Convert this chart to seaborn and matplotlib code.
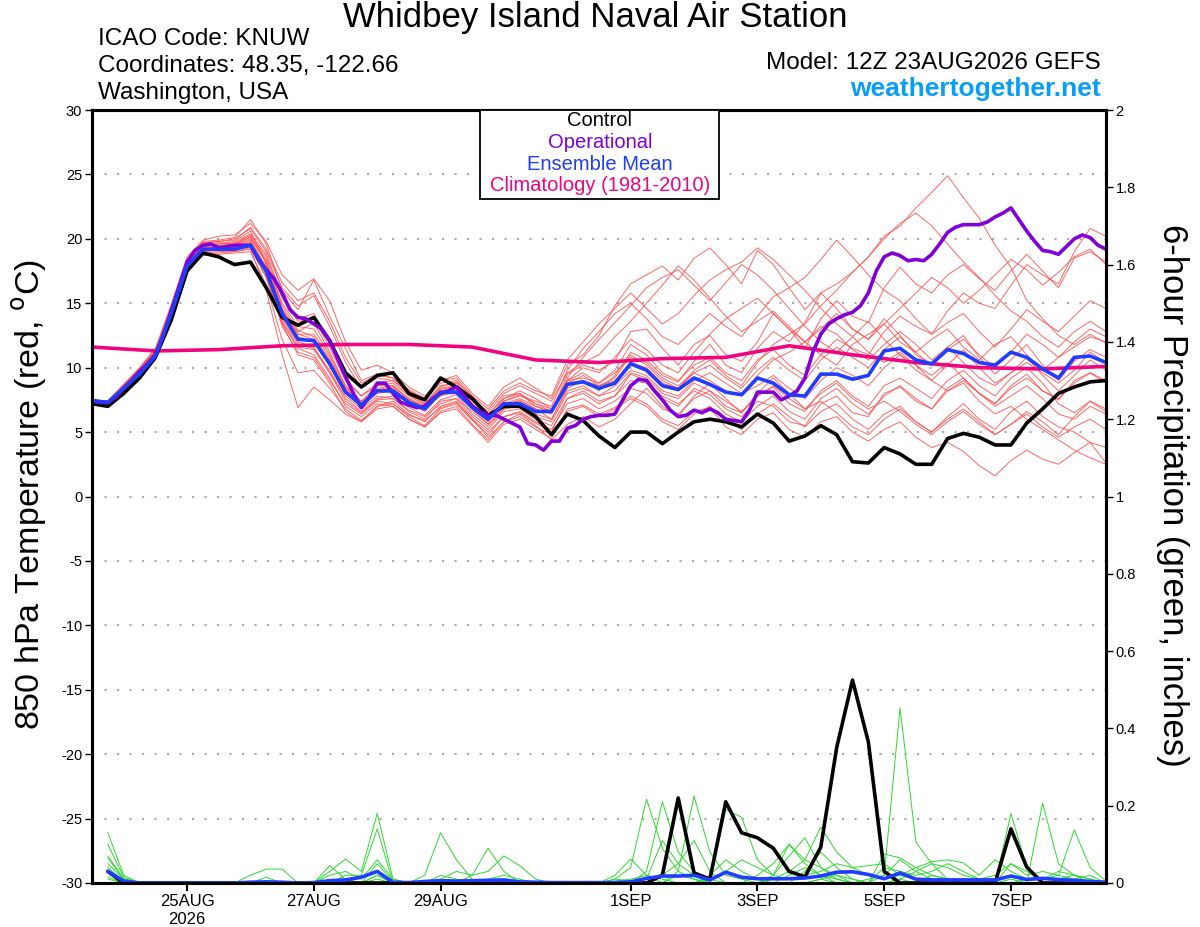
import pandas as pd
import numpy as np
import matplotlib
matplotlib.use("Agg")
import matplotlib.pyplot as plt
from matplotlib.patches import Rectangle
import seaborn as sns

# GEFS run, 6-hourly ensemble output, 3-hourly operational run, daily climatology
run_start = pd.Timestamp("2026-08-23 12:00")
times = pd.date_range(run_start, periods=65, freq="6h")
precip_times = times[1:]
op_times = pd.date_range(run_start, periods=129, freq="3h")
clim_times = pd.date_range(run_start, periods=17, freq="24h")

tick_days = ["2026-08-25", "2026-08-27", "2026-08-29", "2026-09-01",
             "2026-09-03", "2026-09-05", "2026-09-07"]
tick_labels = ["25AUG\n2026", "27AUG", "29AUG", "1SEP", "3SEP", "5SEP", "7SEP"]

# 850 hPa temperature (C)
control_temp = [7.2, 7.0, 8.0, 9.2, 10.8, 13.7, 17.5, 18.9, 18.6, 18.0, 18.2,
                16.2, 13.9, 13.3, 13.9, 12.1, 9.6, 8.5, 9.4, 9.6, 8.0, 7.5,
                9.2, 8.5, 7.6, 6.3, 7.0, 7.0, 6.2, 4.8, 6.4, 5.9, 4.7, 3.8,
                5.0, 5.0, 4.1, 5.0, 5.8, 6.0, 5.8, 5.4, 6.4, 5.7, 4.3, 4.7,
                5.5, 4.8, 2.7, 2.6, 3.8, 3.3, 2.5, 2.5, 4.5, 4.9, 4.6, 4.0,
                4.0, 5.7, 6.8, 8.0, 8.5, 8.9, 9.0]
mean_temp = [7.45, 7.3, 8.4, 9.5, 10.9, 14.2, 17.9, 19.2, 19.2, 19.2, 19.5,
             17.5, 14.2, 12.2, 12.1, 10.3, 8.1, 7.1, 8.2, 8.2, 7.3, 6.8,
             8.1, 8.1, 6.9, 6.0, 7.2, 7.2, 6.6, 6.6, 8.7, 8.9, 8.4, 8.8,
             10.3, 9.8, 8.6, 8.3, 9.2, 8.7, 8.1, 7.9, 9.2, 8.8, 7.9, 7.8,
             9.5, 9.5, 9.1, 9.4, 11.3, 11.5, 10.6, 10.3, 11.4, 11.1, 10.4, 10.2,
             11.2, 10.8, 9.9, 9.2, 10.8, 10.9, 10.4]
oper_temp = [7.4, 7.3, 7.3, 7.7, 8.4, 9.0, 9.7, 10.3, 11.0, 12.5, 14.4, 16.3,
             18.2, 19.1, 19.5, 19.6, 19.3, 19.4, 19.5, 19.5, 19.5, 18.4, 17.6, 16.9,
             15.8, 14.5, 13.9, 13.8, 13.4, 13.0, 12.1, 10.7, 9.3, 8.0, 6.9, 7.7,
             8.8, 8.8, 8.0, 7.3, 7.1, 6.9, 7.0, 7.6, 8.0, 8.2, 8.5, 7.8,
             7.0, 6.6, 6.3, 6.3, 6.0, 5.7, 5.4, 4.1, 4.0, 3.6, 4.3, 4.3,
             5.3, 5.5, 6.0, 6.2, 6.3, 6.3, 6.4, 7.5, 8.6, 9.1, 9.0, 8.2,
             7.5, 6.7, 6.2, 6.3, 6.7, 6.5, 6.8, 6.5, 6.0, 5.9, 5.8, 6.7,
             8.1, 8.1, 8.1, 7.5, 7.8, 8.2, 9.2, 11.2, 12.6, 13.4, 13.8, 14.1,
             14.3, 14.8, 15.8, 17.5, 18.6, 18.9, 18.7, 18.3, 18.4, 18.3, 18.8, 19.6,
             20.5, 20.9, 21.1, 21.1, 21.1, 21.3, 21.7, 22.0, 22.4, 21.5, 20.6, 19.8,
             19.1, 19.0, 18.8, 19.4, 20.0, 20.3, 20.1, 19.5, 19.2]
clim_temp = [11.6, 11.3, 11.4, 11.7, 11.8, 11.8, 11.6, 10.6, 10.4, 10.7, 10.8,
             11.7, 11.0, 10.4, 10.0, 9.9, 10.1]

member_temps = [
    [7.3, 7.2, 8.4, 9.6, 11.0, 14.8, 18.4, 19.8, 19.9, 20.1, 21.5,
     19.6, 16.0, 14.5, 16.8, 14.0, 11.5, 9.0, 9.5, 9.2, 8.0, 7.2,
     8.5, 8.9, 7.8, 6.3, 7.8, 8.0, 7.0, 6.5, 9.5, 10.2, 9.8, 10.5,
     12.8, 13.0, 11.5, 10.2, 11.8, 12.5, 11.0, 10.5, 12.0, 14.2, 13.0, 11.5, 13.8, 15.2, 14.0, 13.5,
     16.2, 17.8, 16.5, 15.8, 17.2, 18.0, 16.9, 16.0, 17.5, 18.8, 17.5, 16.2, 18.5, 19.0, 18.2],
    [7.4, 7.3, 8.6, 9.9, 11.3, 14.6, 18.2, 19.5, 19.6, 19.8, 20.6,
     18.0, 14.5, 12.8, 13.5, 11.2, 8.6, 7.4, 8.3, 8.5, 7.6, 6.9,
     7.8, 8.2, 6.8, 5.6, 7.0, 7.5, 6.8, 6.0, 8.4, 9.0, 8.2, 9.4,
     11.2, 10.6, 9.4, 8.9, 10.5, 11.8, 10.2, 9.6, 11.5, 12.8, 12.0, 13.5, 15.8, 16.5, 17.4, 18.6,
     20.2, 21.0, 22.4, 23.6, 24.9, 23.2, 21.6, 19.5, 17.8, 15.2, 13.8, 12.5, 11.8, 12.6, 11.9],
    [7.2, 7.1, 8.2, 9.5, 10.8, 14.0, 17.6, 18.8, 18.9, 19.0, 19.2,
     16.0, 11.0, 6.9, 8.5, 7.5, 6.4, 5.8, 7.0, 7.2, 6.2, 5.5,
     6.8, 7.2, 5.9, 4.8, 6.2, 6.5, 5.7, 5.0, 7.6, 8.0, 7.2, 7.8,
     9.5, 9.0, 7.6, 7.0, 8.4, 7.9, 6.8, 6.2, 7.4, 7.0, 5.8, 5.5, 7.2, 7.8, 6.5, 6.2,
     8.0, 8.5, 7.4, 6.8, 8.4, 9.2, 8.0, 7.2, 8.6, 9.5, 8.2, 7.5, 9.0, 9.6, 8.8],
    [7.5, 7.4, 8.7, 10.0, 11.5, 14.9, 18.6, 19.9, 20.2, 20.3, 21.2,
     19.8, 17.2, 16.0, 16.9, 15.2, 12.0, 9.8, 10.2, 9.6, 8.5, 7.8,
     9.0, 9.4, 8.0, 7.0, 8.5, 9.2, 8.4, 7.6, 10.2, 11.0, 12.5, 14.8,
     16.5, 17.2, 17.9, 16.8, 18.5, 19.3, 18.0, 16.5, 19.1, 18.0, 16.2, 14.5, 15.8, 14.6, 13.0, 12.2,
     13.8, 12.5, 11.0, 10.2, 11.6, 12.5, 10.8, 9.5, 10.6, 11.8, 10.2, 9.0, 10.5, 11.4, 10.8],
    [7.3, 7.2, 8.3, 9.4, 10.7, 14.1, 17.8, 19.0, 19.1, 19.0, 19.3,
     17.0, 13.5, 11.5, 11.0, 9.2, 7.0, 6.2, 7.2, 7.0, 6.0, 5.4,
     6.5, 6.8, 5.5, 4.2, 5.6, 6.0, 5.2, 4.5, 6.8, 7.1, 6.4, 6.9,
     7.8, 7.2, 6.0, 5.5, 6.6, 6.9, 5.4, 4.8, 6.0, 6.5, 5.2, 4.6, 5.8, 6.2, 5.0, 4.3,
     5.2, 5.8, 4.6, 3.8, 4.2, 3.5, 2.4, 1.6, 2.8, 3.6, 2.9, 2.5, 3.4, 4.2, 2.6],
    [7.4, 7.3, 8.5, 9.7, 11.1, 14.4, 18.1, 19.3, 19.3, 19.5, 20.0,
     18.2, 15.0, 13.2, 13.0, 11.0, 8.5, 7.2, 8.4, 8.6, 7.5, 7.0,
     8.2, 8.5, 7.2, 6.2, 7.4, 7.8, 7.4, 7.0, 9.8, 11.5, 12.8, 14.2,
     15.0, 13.8, 12.4, 11.8, 13.0, 14.2, 13.2, 12.4, 14.0, 15.5, 16.2, 17.0, 18.4, 19.9, 18.6, 17.2,
     16.0, 15.2, 13.8, 12.6, 13.5, 14.2, 12.8, 11.6, 13.0, 14.5, 13.6, 12.8, 14.0, 15.2, 14.6],
    [7.3, 7.2, 8.3, 9.5, 10.9, 14.3, 17.9, 19.1, 19.1, 19.2, 19.6,
     17.4, 13.8, 11.8, 11.5, 9.8, 7.6, 6.6, 7.6, 7.8, 6.9, 6.3,
     7.5, 7.9, 6.4, 5.4, 6.8, 7.0, 6.2, 5.8, 8.0, 8.4, 7.8, 8.2,
     9.6, 9.2, 8.0, 7.6, 8.8, 8.2, 7.0, 6.5, 7.8, 8.5, 7.2, 6.6, 8.2, 9.0, 7.8, 7.0,
     8.6, 9.2, 8.4, 7.6, 9.0, 9.8, 8.6, 7.8, 9.2, 10.0, 8.8, 7.2, 6.5, 7.4, 6.8],
    [7.5, 7.4, 8.6, 9.8, 11.2, 14.6, 18.3, 19.6, 19.7, 19.6, 20.3,
     18.6, 15.4, 13.6, 13.8, 11.6, 9.0, 7.8, 8.8, 9.0, 7.9, 7.2,
     8.6, 8.8, 7.4, 6.4, 7.6, 8.2, 7.6, 6.8, 9.0, 9.6, 8.8, 9.8,
     11.8, 11.0, 9.6, 9.0, 10.2, 10.8, 9.6, 9.0, 10.6, 11.4, 10.2, 9.4, 11.0, 12.2, 11.5, 11.0,
     12.8, 14.0, 13.2, 12.6, 14.4, 15.8, 15.0, 14.6, 16.4, 18.0, 17.2, 16.5, 19.0, 20.8, 20.2],
    [7.2, 7.1, 8.1, 9.3, 10.6, 13.8, 17.5, 18.7, 18.8, 18.9, 19.0,
     16.4, 12.2, 9.6, 9.8, 8.4, 6.8, 5.9, 7.0, 7.4, 6.4, 5.8,
     7.0, 7.4, 6.0, 4.6, 5.8, 6.4, 5.5, 4.4, 5.6, 6.2, 5.4, 6.0,
     7.2, 8.4, 7.0, 6.2, 7.8, 8.8, 7.6, 6.5, 8.0, 9.2, 8.0, 6.8, 7.4, 6.5, 5.4, 4.8,
     6.0, 6.8, 5.8, 5.0, 6.2, 7.2, 6.0, 5.2, 6.6, 7.4, 6.2, 5.4, 5.0, 4.2, 3.8],
    [7.4, 7.3, 8.5, 9.7, 11.1, 14.5, 18.2, 19.4, 19.5, 19.6, 20.1,
     18.4, 14.8, 12.9, 12.4, 10.6, 8.3, 7.3, 8.2, 8.1, 7.2, 6.6,
     7.9, 8.0, 6.8, 5.8, 7.2, 7.4, 6.8, 6.4, 9.2, 10.8, 12.2, 13.5,
     14.8, 16.2, 17.0, 17.6, 16.4, 15.2, 16.6, 18.0, 17.2, 16.0, 14.6, 13.2, 12.0, 11.2, 12.4, 13.6,
     12.2, 11.0, 9.8, 9.0, 10.2, 11.4, 10.0, 8.8, 9.6, 10.8, 9.4, 8.2, 9.4, 10.6, 9.8],
    [7.3, 7.2, 8.4, 9.6, 11.0, 14.3, 18.0, 19.2, 19.3, 19.3, 19.7,
     17.6, 14.2, 12.4, 12.0, 10.2, 8.0, 7.0, 8.0, 8.2, 7.2, 6.7,
     8.0, 8.2, 6.9, 5.9, 7.1, 7.3, 6.6, 6.6, 8.8, 9.0, 8.6, 9.0,
     10.4, 10.0, 8.8, 8.4, 9.6, 9.0, 8.2, 7.8, 9.4, 10.6, 11.2, 12.0, 11.0, 10.2, 11.8, 12.6,
     13.4, 12.0, 11.2, 12.2, 13.0, 11.6, 10.6, 11.8, 12.4, 11.0, 9.8, 10.8, 11.6, 12.4, 12.0],
    [7.4, 7.3, 8.4, 9.6, 11.0, 14.4, 18.1, 19.3, 19.2, 19.3, 19.8,
     17.8, 14.0, 12.0, 11.6, 9.6, 7.4, 6.5, 7.5, 7.6, 6.7, 6.2,
     7.2, 7.6, 6.2, 5.2, 6.6, 6.8, 6.0, 5.5, 7.6, 8.2, 7.4, 7.8,
     9.0, 8.8, 7.8, 7.2, 8.2, 7.6, 6.4, 5.8, 7.0, 7.8, 6.6, 6.0, 7.6, 8.4, 7.2, 6.4,
     7.8, 8.6, 7.6, 6.8, 8.2, 8.8, 7.4, 6.4, 7.0, 6.0, 5.2, 4.4, 3.6, 3.0, 2.5],
    [7.5, 7.4, 8.7, 9.9, 11.4, 14.7, 18.4, 19.7, 19.8, 20.0, 20.8,
     19.0, 16.2, 14.8, 15.6, 13.2, 10.4, 8.4, 9.2, 9.0, 8.2, 7.5,
     8.8, 9.0, 7.6, 6.6, 8.0, 8.6, 8.0, 7.4, 9.6, 10.4, 11.0, 12.4,
     13.6, 15.0, 16.4, 17.9, 16.8, 15.4, 14.0, 12.8, 13.6, 14.4, 13.2, 12.0, 13.0, 14.2, 13.0, 12.2,
     13.4, 14.6, 15.8, 17.0, 16.2, 15.0, 16.0, 17.2, 18.4, 17.6, 16.4, 17.4, 18.6, 19.2, 18.0],
    [7.3, 7.2, 8.3, 9.5, 10.8, 14.2, 17.9, 19.1, 19.2, 19.1, 19.5,
     17.2, 13.6, 11.6, 11.4, 9.6, 7.8, 6.8, 7.8, 7.6, 6.6, 6.0,
     7.4, 7.6, 6.6, 5.6, 6.8, 7.2, 6.4, 6.0, 8.2, 8.6, 7.8, 8.6,
     9.8, 9.4, 8.2, 7.8, 9.0, 9.6, 8.8, 8.0, 8.6, 9.4, 8.4, 7.6, 9.0, 10.0, 9.4, 8.6,
     10.0, 11.0, 10.2, 9.4, 10.4, 9.2, 8.0, 7.2, 8.4, 9.2, 8.2, 7.6, 8.8, 9.6, 9.0],
    [7.4, 7.3, 8.5, 9.8, 11.2, 14.5, 18.2, 19.5, 19.6, 19.7, 20.4,
     18.8, 15.6, 13.8, 14.2, 12.0, 9.2, 7.8, 8.6, 8.8, 7.8, 7.1,
     8.3, 8.6, 7.2, 6.0, 7.4, 7.9, 7.2, 6.6, 8.8, 9.4, 8.6, 9.2,
     11.0, 10.2, 9.0, 8.4, 9.8, 10.6, 9.4, 8.6, 10.4, 11.8, 12.6, 13.4, 14.8, 16.0, 17.4, 18.6,
     20.0, 21.2, 22.0, 21.0, 19.6, 18.2, 17.0, 15.6, 14.4, 13.6, 12.4, 11.6, 12.8, 13.6, 12.8],
    [7.2, 7.1, 8.2, 9.4, 10.7, 14.0, 17.7, 18.9, 19.0, 19.1, 19.4,
     17.0, 13.2, 11.2, 10.8, 9.0, 7.2, 6.4, 7.4, 7.2, 6.3, 5.9,
     6.9, 7.3, 6.0, 5.0, 6.2, 6.6, 5.8, 5.2, 7.2, 7.6, 6.8, 7.4,
     8.4, 8.0, 6.8, 6.4, 7.6, 8.2, 7.4, 6.6, 7.8, 8.6, 7.6, 6.8, 8.0, 8.8, 7.6, 6.8,
     7.4, 6.6, 5.6, 4.8, 5.8, 6.6, 5.6, 4.8, 5.6, 6.4, 5.4, 4.6, 5.4, 6.0, 5.2],
    [7.4, 7.3, 8.6, 9.8, 11.2, 14.6, 18.2, 19.4, 19.5, 19.5, 20.2,
     18.2, 14.6, 12.6, 12.6, 10.8, 8.4, 7.4, 8.6, 8.6, 7.6, 7.0,
     8.4, 8.6, 7.0, 6.0, 7.6, 8.0, 7.2, 6.8, 9.0, 10.0, 9.6, 10.8,
     12.2, 11.4, 10.2, 9.6, 11.2, 12.6, 13.8, 14.6, 15.4, 14.2, 13.0, 12.0, 13.2, 12.6, 11.4, 10.6,
     11.8, 12.8, 11.8, 10.6, 11.6, 10.4, 9.2, 8.6, 9.6, 10.4, 9.6, 8.8, 9.8, 11.2, 10.4],
    [7.3, 7.2, 8.3, 9.5, 10.9, 14.2, 17.9, 19.1, 19.2, 19.3, 19.6,
     17.4, 13.4, 11.0, 10.6, 8.8, 6.6, 5.8, 6.8, 7.0, 6.0, 5.4,
     6.6, 7.0, 5.6, 4.4, 5.8, 6.2, 5.4, 4.8, 6.6, 7.0, 6.2, 6.8,
     7.6, 7.0, 5.8, 5.2, 6.4, 7.0, 6.0, 5.2, 6.4, 7.2, 6.2, 5.4, 6.6, 7.2, 6.0, 5.2,
     6.4, 7.0, 5.8, 5.0, 6.0, 6.8, 5.8, 4.8, 5.6, 6.6, 5.8, 4.8, 6.2, 7.4, 6.6],
    [7.5, 7.4, 8.6, 9.9, 11.3, 14.7, 18.4, 19.7, 19.8, 19.9, 20.9,
     19.2, 16.6, 15.2, 15.8, 13.6, 10.8, 8.8, 9.4, 9.2, 8.3, 7.6,
     9.0, 9.2, 7.8, 6.8, 8.2, 8.8, 8.2, 7.8, 10.6, 12.0, 13.4, 14.6,
     15.8, 14.6, 13.4, 14.2, 15.6, 16.8, 17.6, 18.2, 19.3, 18.4, 17.2, 16.0, 14.6, 13.4, 12.4, 11.2,
     10.4, 11.2, 10.2, 9.0, 8.2, 9.0, 8.0, 7.0, 7.8, 8.6, 7.6, 6.4, 6.0, 7.0, 6.4],
    [7.4, 7.3, 8.4, 9.7, 11.1, 14.4, 18.0, 19.2, 19.4, 19.4, 19.9,
     17.8, 14.4, 12.6, 12.2, 10.4, 8.2, 7.2, 8.2, 8.4, 7.4, 6.8,
     8.1, 8.4, 7.0, 6.0, 7.2, 7.6, 7.0, 6.6, 9.0, 9.2, 8.8, 9.6,
     10.8, 10.4, 9.2, 8.6, 9.6, 10.2, 9.2, 8.4, 9.8, 10.8, 9.8, 9.0, 10.6, 11.6, 10.8, 10.0,
     11.4, 12.4, 11.2, 10.2, 11.4, 12.2, 11.0, 10.0, 11.2, 12.6, 11.8, 10.8, 12.0, 13.0, 12.4],
]

# 6-hour precipitation (inches), from the first 6 h step on
control_precip = [0.03, 0, 0, 0, 0, 0, 0, 0,
                  0, 0, 0, 0, 0, 0, 0, 0,
                  0, 0, 0, 0, 0, 0, 0, 0.002,
                  0, 0, 0, 0, 0, 0, 0, 0,
                  0, 0, 0, 0.02, 0.22, 0.026, 0.01, 0.21,
                  0.13, 0.117, 0.09, 0.03, 0.016, 0.093, 0.35, 0.525,
                  0.365, 0.03, 0, 0, 0, 0, 0, 0,
                  0, 0.14, 0.041, 0, 0, 0, 0, 0]
mean_precip = [0.03, 0.005, 0, 0, 0, 0, 0, 0,
               0, 0.002, 0.003, 0.002, 0, 0.001, 0.006, 0.008,
               0.015, 0.03, 0.002, 0.001, 0.004, 0.006, 0.005, 0.006,
               0.007, 0.008, 0.003, 0.002, 0.001, 0.001, 0.001, 0.001,
               0.001, 0.003, 0.012, 0.018, 0.018, 0.02, 0.008, 0.028,
               0.015, 0.011, 0.011, 0.011, 0.013, 0.018, 0.028, 0.029,
               0.022, 0.011, 0.026, 0.01, 0.008, 0.008, 0.008, 0.008,
               0.008, 0.018, 0.009, 0.012, 0.009, 0.007, 0.004, 0.002]
member_precip = [
    [0.13, 0.02, 0, 0, 0, 0, 0, 0,
     0, 0, 0, 0, 0, 0, 0, 0,
     0, 0.01, 0, 0, 0.02, 0.13, 0.06, 0.01,
     0, 0, 0, 0, 0, 0, 0, 0,
     0.01, 0.04, 0.217, 0.09, 0.03, 0.01, 0, 0,
     0, 0, 0, 0, 0, 0.01, 0.02, 0.01,
     0, 0.02, 0.06, 0.03, 0.01, 0, 0, 0,
     0, 0, 0, 0, 0, 0, 0, 0],
    [0.10, 0.015, 0, 0, 0, 0, 0, 0,
     0, 0.02, 0.036, 0.036, 0, 0, 0.045, 0.01,
     0, 0.02, 0, 0, 0, 0.01, 0.03, 0.02,
     0.09, 0.03, 0, 0, 0, 0, 0, 0,
     0, 0, 0.03, 0.21, 0.08, 0.03, 0.01, 0,
     0, 0, 0.02, 0.10, 0.05, 0.02, 0, 0,
     0.01, 0.02, 0.453, 0.106, 0.05, 0.01, 0, 0,
     0, 0, 0, 0, 0, 0, 0, 0],
    [0.07, 0.01, 0, 0, 0, 0, 0, 0,
     0, 0, 0.015, 0, 0, 0, 0.03, 0.062,
     0.03, 0.18, 0.01, 0, 0, 0, 0, 0,
     0, 0, 0, 0, 0, 0, 0, 0,
     0.02, 0.062, 0.02, 0, 0.03, 0.225, 0.08, 0.02,
     0.01, 0, 0, 0, 0.03, 0.08, 0.04, 0.01,
     0, 0, 0, 0, 0, 0, 0, 0,
     0, 0.18, 0.04, 0, 0, 0, 0, 0],
    [0.065, 0.01, 0, 0, 0, 0, 0, 0,
     0, 0, 0, 0, 0, 0, 0, 0.02,
     0.02, 0.14, 0, 0, 0, 0, 0, 0.02,
     0.03, 0.07, 0.045, 0.01, 0, 0, 0, 0,
     0, 0, 0.01, 0.11, 0.05, 0.02, 0, 0.19,
     0.17, 0.06, 0.02, 0.07, 0.117, 0.04, 0.01, 0,
     0, 0.075, 0.065, 0.04, 0.02, 0.01, 0, 0,
     0, 0.01, 0, 0, 0, 0, 0, 0],
    [0.05, 0.01, 0, 0, 0, 0, 0, 0,
     0, 0, 0, 0, 0, 0, 0.02, 0.03,
     0.01, 0.06, 0.01, 0, 0, 0.02, 0.01, 0,
     0, 0, 0, 0, 0, 0, 0, 0,
     0, 0, 0, 0.02, 0.05, 0.11, 0.03, 0,
     0, 0.02, 0.05, 0.10, 0.06, 0.145, 0.08, 0.04,
     0.045, 0.05, 0.02, 0.01, 0, 0, 0, 0,
     0, 0, 0, 0.207, 0.05, 0.02, 0, 0],
    [0.04, 0.005, 0, 0, 0, 0, 0, 0,
     0, 0, 0, 0, 0, 0, 0, 0,
     0, 0.05, 0.005, 0, 0, 0, 0, 0,
     0, 0, 0, 0, 0, 0, 0, 0,
     0.005, 0.01, 0.02, 0.01, 0, 0, 0.01, 0.03,
     0.06, 0.04, 0.02, 0.01, 0.02, 0.03, 0.05, 0.04,
     0.02, 0.01, 0.02, 0.04, 0.055, 0.06, 0.052, 0.02,
     0.06, 0.03, 0.01, 0.01, 0.02, 0.137, 0.04, 0.005],
    [0.03, 0, 0, 0, 0, 0, 0, 0,
     0, 0, 0, 0, 0, 0, 0, 0,
     0, 0.02, 0, 0, 0, 0, 0, 0,
     0, 0, 0, 0, 0, 0, 0, 0,
     0, 0, 0, 0, 0, 0, 0.02, 0.06,
     0.03, 0.01, 0, 0.02, 0.04, 0.02, 0.01, 0,
     0, 0, 0.01, 0.03, 0.05, 0.04, 0.02, 0.01,
     0.02, 0.05, 0.02, 0.03, 0.02, 0.01, 0.02, 0],
    [0.015, 0, 0, 0, 0, 0, 0, 0,
     0, 0, 0, 0, 0, 0, 0, 0,
     0, 0, 0, 0, 0, 0, 0, 0,
     0.01, 0.02, 0.01, 0, 0, 0, 0, 0,
     0, 0, 0, 0, 0, 0, 0, 0,
     0, 0, 0.01, 0.03, 0.06, 0.04, 0.02, 0,
     0, 0.04, 0.03, 0.02, 0.03, 0.05, 0.03, 0.01,
     0, 0.05, 0.03, 0.01, 0.01, 0.02, 0.01, 0],
    [0.01, 0, 0, 0, 0, 0, 0, 0,
     0, 0, 0, 0, 0, 0, 0, 0,
     0, 0, 0, 0, 0, 0, 0, 0,
     0, 0, 0, 0, 0, 0, 0, 0,
     0.01, 0.005, 0, 0, 0.02, 0.01, 0, 0,
     0, 0, 0, 0, 0, 0.01, 0, 0,
     0, 0, 0.01, 0, 0.02, 0.01, 0, 0,
     0, 0, 0.01, 0.01, 0.03, 0.02, 0.01, 0],
]

bad = [(k, len(m)) for k, m in enumerate(member_temps) if len(m) != len(times)]
bad += [("p", k, len(m)) for k, m in enumerate(member_precip) if len(m) != len(precip_times)]
if bad:
    raise ValueError(f"length mismatch {bad}")

temp_df = pd.DataFrame(
    [(k, t, v) for k, m in enumerate(member_temps) for t, v in zip(times, m)],
    columns=["member", "time", "temp"])
precip_df = pd.DataFrame(
    [(k, t, v) for k, m in enumerate(member_precip) for t, v in zip(precip_times, m)],
    columns=["member", "time", "precip"])

sns.set_style("white")
plt.rcParams["font.family"] = ["Liberation Sans", "DejaVu Sans"]
plt.rcParams["axes.unicode_minus"] = False
for key in ("text.color", "axes.labelcolor", "xtick.color", "ytick.color"):
    plt.rcParams[key] = "black"

W, H = 1200, 927
fig = plt.figure(figsize=(12, 9.27), dpi=100)
ax = fig.add_axes([92 / W, (H - 883) / H, (1106 - 92) / W, (883 - 110) / H])
ax2 = ax.twinx()

# dotted grid
for v in range(-25, 30, 5):
    ax.axhline(v, color="#aaaaaa", linestyle=(0, (1, 5)), linewidth=1.5, zorder=0)

# ensemble members
sns.lineplot(data=temp_df, x="time", y="temp", units="member", estimator=None,
             color="#ff4d4d", linewidth=0.7, alpha=0.85, ax=ax, legend=False, zorder=2)
sns.lineplot(x=clim_times, y=clim_temp, color="#f0047f", linewidth=2.6, ax=ax, zorder=3)
sns.lineplot(x=times, y=control_temp, color="black", linewidth=2.6, ax=ax, zorder=4)
sns.lineplot(x=op_times, y=oper_temp, color="#8000d8", linewidth=2.6, ax=ax, zorder=5)
sns.lineplot(x=times, y=mean_temp, color="#1f3cff", linewidth=2.6, ax=ax, zorder=6)

sns.lineplot(data=precip_df, x="time", y="precip", units="member", estimator=None,
             color="#2fd82f", linewidth=0.7, ax=ax2, legend=False)
sns.lineplot(x=precip_times, y=control_precip, color="black", linewidth=2.6, ax=ax2)
sns.lineplot(x=precip_times, y=mean_precip, color="#1f3cff", linewidth=2.6, ax=ax2)

ax.set_xlim(times[0], times[-1])
ax.set_ylim(-30, 30)
ax2.set_ylim(0, 2)
ax.set_yticks(range(-30, 31, 5))
ax2.set_yticks(np.arange(0, 2.01, 0.2))
ax2.set_yticklabels(["0", "0.2", "0.4", "0.6", "0.8", "1", "1.2", "1.4", "1.6", "1.8", "2"])
ax.set_xticks(pd.to_datetime(tick_days))
ax.set_xticklabels(tick_labels)
ax.set_xlabel("")
ax.set_ylabel("")
ax2.set_ylabel("")

ax.tick_params(axis="y", labelsize=10.5, length=5, width=1, pad=2)
ax2.tick_params(axis="y", labelsize=10.5, length=5, width=1, pad=2, right=True)
ax.tick_params(axis="x", labelsize=12, length=6, width=1.5, pad=2, bottom=True)
for a in (ax, ax2):
    for s in a.spines.values():
        s.set_linewidth(2.2)
        s.set_color("black")

# axis titles
fig.text(30 / W, 1 - 494 / H, "850 hPa Temperature (red, $^{\\mathrm{o}}$C)",
         rotation=90, ha="center", va="center", fontsize=24.5)
fig.text(1173 / W, 1 - 495 / H, "6-hour Precipitation (green, inches)",
         rotation=270, ha="center", va="center", fontsize=25)

# header texts
fig.text(595 / W, 1 - 18 / H, "Whidbey Island Naval Air Station",
         ha="center", va="center", fontsize=25)
fig.text(98 / W, 1 - 39 / H, "ICAO Code: KNUW", ha="left", va="center", fontsize=17.5)
fig.text(98 / W, 1 - 66 / H, "Coordinates: 48.35, -122.66", ha="left", va="center", fontsize=17.5)
fig.text(98 / W, 1 - 93 / H, "Washington, USA", ha="left", va="center", fontsize=17.5)
fig.text(1101 / W, 1 - 63 / H, "Model: 12Z 23AUG2026 GEFS", ha="right", va="center", fontsize=17.5)
fig.text(1101 / W, 1 - 89 / H, "weathertogether.net", ha="right", va="center",
         fontsize=19, fontweight="bold", color="#0b9cf4")

# legend box
fig.patches.append(Rectangle((480 / W, 1 - 199 / H), (719 - 480) / W, (199 - 110) / H,
                             transform=fig.transFigure, facecolor="white",
                             edgecolor="black", linewidth=1.3, zorder=10))
legend_items = [("Control", "black"), ("Operational", "#8000d8"),
                ("Ensemble Mean", "#1f3cff"), ("Climatology (1981-2010)", "#f0047f")]
for n, (label, col) in enumerate(legend_items):
    fig.text(600 / W, 1 - (121 + 21.5 * n) / H, label, ha="center", va="center",
             fontsize=14.5, color=col, zorder=11)

fig.savefig("out.png", dpi=100)
